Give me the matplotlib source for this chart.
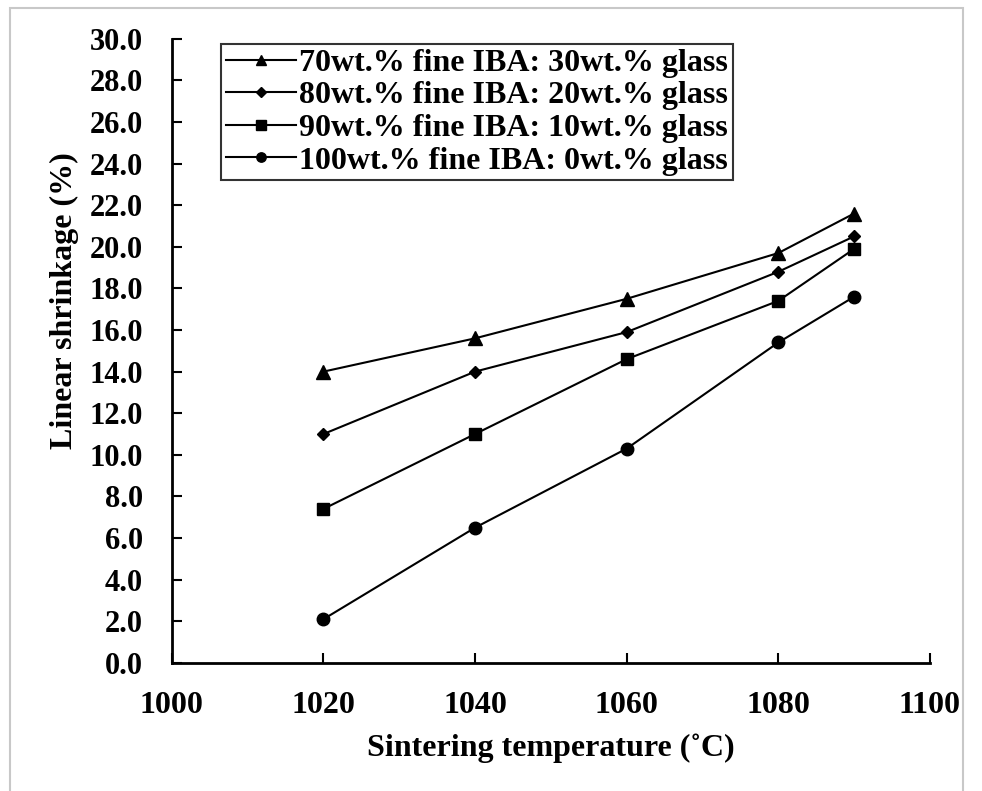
import matplotlib
matplotlib.use("Agg")
import matplotlib.pyplot as plt
from matplotlib.patches import Rectangle

temperature = [1020, 1040, 1060, 1080, 1090]
iba70 = [14.0, 15.6, 17.5, 19.7, 21.6]
iba80 = [11.0, 14.0, 15.9, 18.8, 20.5]
iba90 = [7.4, 11.0, 14.6, 17.4, 19.9]
iba100 = [2.1, 6.5, 10.3, 15.4, 17.6]

series_labels = [
    "70wt.% fine IBA: 30wt.% glass",
    "80wt.% fine IBA: 20wt.% glass",
    "90wt.% fine IBA: 10wt.% glass",
    "100wt.% fine IBA: 0wt.% glass",
]
x_ticks = [1000, 1020, 1040, 1060, 1080, 1100]
y_ticks = [0, 2, 4, 6, 8, 10, 12, 14, 16, 18, 20, 22, 24, 26, 28, 30]

plt.rcParams["font.family"] = ["Liberation Serif", "DejaVu Serif"]
plt.rcParams["font.weight"] = "bold"

fig = plt.figure(figsize=(9.82, 7.91), dpi=100)
# thin grey frame around the picture, as in the source image
fig.patches.append(Rectangle((10 / 982, -0.05), 953 / 982, 1.05 - 8 / 791, transform=fig.transFigure,
                             fill=False, edgecolor="#c8c8c8", linewidth=1.5))
ax = fig.add_axes([0.175, 0.162, 0.772, 0.789])

styles = [("^", 10), ("D", 6.5), ("s", 9), ("o", 9)]
for vals, label, (marker, size) in zip([iba70, iba80, iba90, iba100], series_labels, styles):
    ax.plot(temperature, vals, color="black", linewidth=1.5, marker=marker, markersize=size, label=label)

ax.set_xlim(1000, 1100)
ax.set_ylim(0, 30)
ax.set_xticks(x_ticks)
ax.set_yticks(y_ticks)
ax.set_yticklabels([f"{v:.1f}" for v in y_ticks])
ax.tick_params(direction="in", length=7, width=1.5, labelsize=22)
ax.tick_params(axis="x", pad=20, labelsize=23)
ax.tick_params(axis="y", pad=21)
for side in ["top", "right"]:
    ax.spines[side].set_visible(False)
for side in ["left", "bottom"]:
    ax.spines[side].set_linewidth(2)

ax.set_xlabel("Sintering temperature (˚C)", fontsize=23, fontweight="bold", labelpad=10)
ax.set_ylabel("Linear shrinkage (%)", fontsize=23, fontweight="bold")
ax.yaxis.set_label_coords(-0.122, 0.58)

leg = ax.legend(loc="upper left", bbox_to_anchor=(0.065, 0.992), borderaxespad=0, fontsize=23,
                frameon=True, fancybox=False, edgecolor="black", handlelength=2.2, handletextpad=0.1,
                borderpad=0.15, labelspacing=0.1, markerscale=0.75)
leg.get_frame().set_linewidth(1.5)

fig.savefig("out.png", dpi=100)
